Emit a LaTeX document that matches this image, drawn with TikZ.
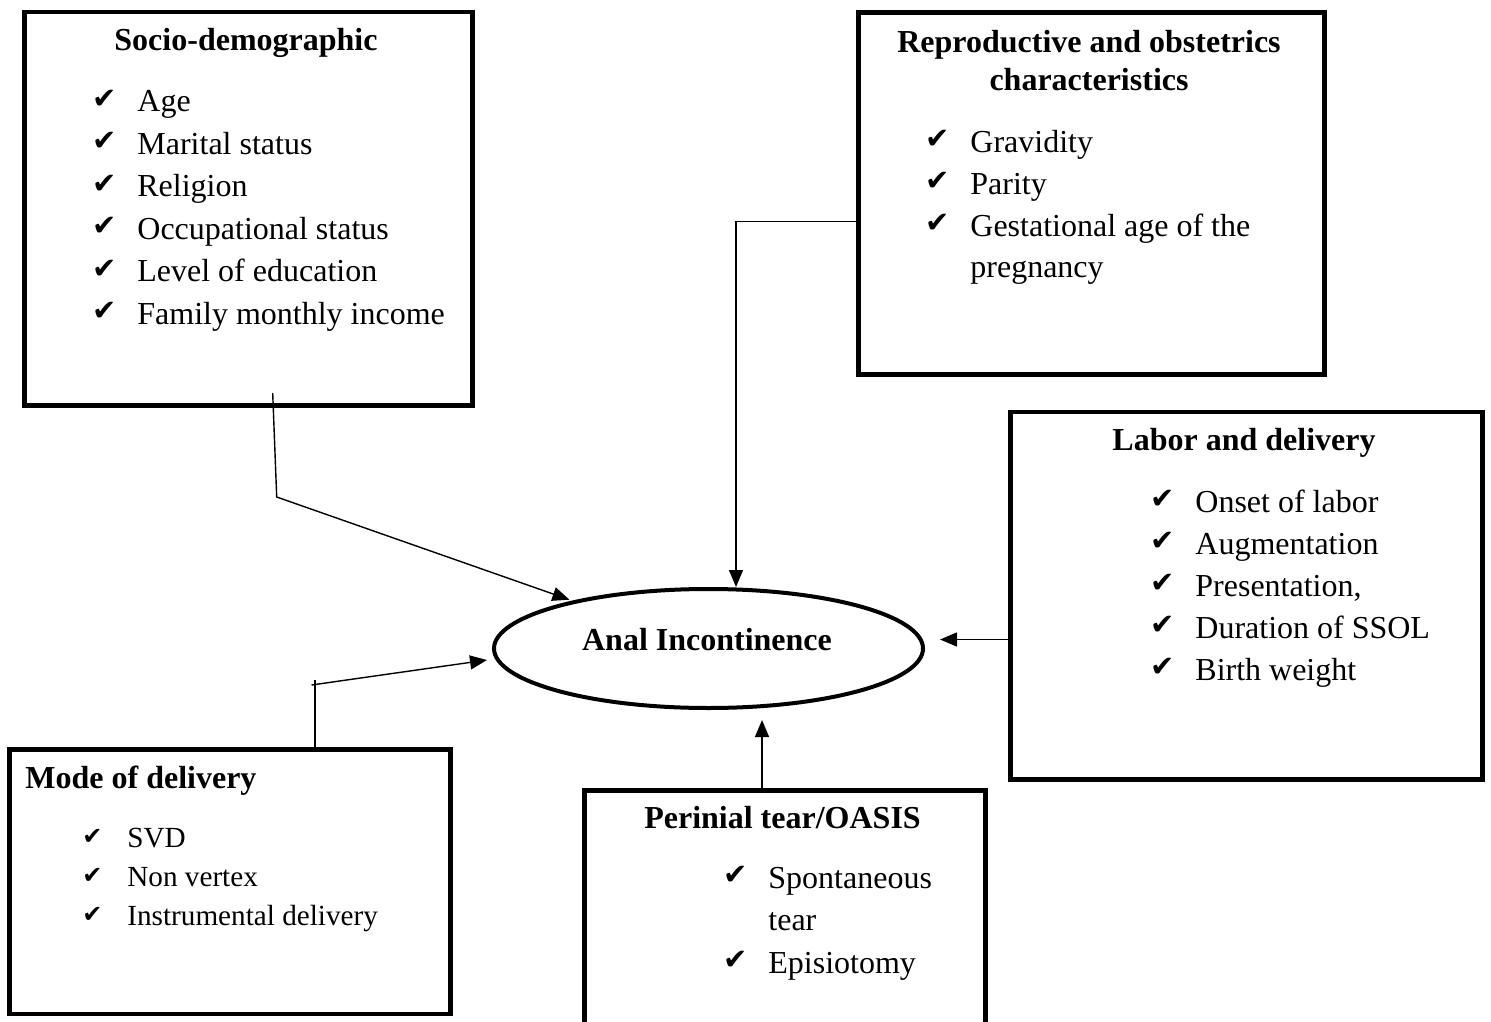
\documentclass[tikz,border=0pt]{standalone}
\usepackage{fontspec}
\setmainfont{Liberation Serif}
\newfontfamily\symfont{DejaVu Sans}
\usetikzlibrary{arrows.meta,shapes,calc}
\newcommand{\chkm}{\makebox[22.5pt][l]{\raisebox{1.8pt}{\fontsize{14.5}{12}\symfont ✔}}}
\newcommand{\chks}{\makebox[22.5pt][l]{\raisebox{1.5pt}{\fontsize{12}{10}\symfont ✔}}}

\begin{document}
\begin{tikzpicture}[x=0.5pt,y=-0.5pt]
		\tikzstyle{every node}=[font=\fontsize{16}{21}\selectfont, inner sep=0pt]
		\tikzstyle{box}=[draw, rectangle, line width=2.4pt]
		\tikzstyle{head}=[anchor=base, font=\fontsize{16}{21}\selectfont\bfseries]
		\tikzstyle{item}=[anchor=base west]
		\tikzstyle{small}=[anchor=base west, font=\fontsize{14.6}{17}\selectfont]
		\tikzstyle{link}=[line width=0.7pt, ->, >={Triangle[length=8.5pt,width=7pt]}]
		\useasboundingbox (0,0) rectangle (1491,1021);
		% boxes
		\node [box, minimum width=224pt, minimum height=196.75pt] (socio) at (248.5,208.75) {};
		\node [box, minimum width=233pt, minimum height=181pt] (repro) at (1091.5,193.5) {};
		\node [box, minimum width=236pt, minimum height=183.75pt] (labor) at (1246.5,595.75) {};
		\node [box, minimum width=220.5pt, minimum height=132.25pt] (mode) at (230,881.75) {};
		\node [box, minimum width=200.5pt, minimum height=124.75pt] (peri) at (785,915.25) {};
		\node [draw, ellipse, line width=2pt, minimum width=214.5pt, minimum height=59.5pt] (ai) at (708.5,648.5) {};
		\node [head] (aiT) at (707,650) {Anal Incontinence};
		% socio-demographic
		\node [head] (socioT) at (246,51) {Socio-demographic};
		\node [item] (age) at (92,112) {\chkm Age};
		\node [item] (marital) at (92,154.4) {\chkm Marital status};
		\node [item] (religion) at (92,196.8) {\chkm Religion};
		\node [item] (occup) at (92,239.2) {\chkm Occupational status};
		\node [item] (educ) at (92,281.6) {\chkm Level of education};
		\node [item] (income) at (92,324) {\chkm Family monthly income};
		% reproductive
		\node [head] (reproT) at (1089,52.5) {Reproductive and obstetrics};
		\node [head] (reproT2) at (1089,91) {characteristics};
		\node [item] (gravid) at (925,152.5) {\chkm Gravidity};
		\node [item] (parity) at (925,194.5) {\chkm Parity};
		\node [item] (gest) at (925,236.5) {\chkm Gestational age of the};
		\node [item] (gest2) at (970,277.5) {pregnancy};
		% labor and delivery
		\node [head] (laborT) at (1244,450.5) {Labor and delivery};
		\node [item] (onset) at (1150,512) {\chkm Onset of labor};
		\node [item] (augm) at (1150,554) {\chkm Augmentation};
		\node [item] (present) at (1150,596) {\chkm Presentation,};
		\node [item] (ssol) at (1150,638) {\chkm Duration of SSOL};
		\node [item] (weight) at (1150,680) {\chkm Birth weight};
		% mode of delivery
		\node [anchor=base west, font=\fontsize{16}{21}\selectfont\bfseries] (modeT) at (25,788.5) {Mode of delivery};
		\node [small] (svd) at (82,847) {\chks SVD};
		\node [small] (nonvx) at (82,886.5) {\chks Non vertex};
		\node [small] (instr) at (82,925.5) {\chks Instrumental delivery};
		% perinial tear
		\node [head] (periT) at (782.5,828.5) {Perinial tear/OASIS};
		\node [item] (spont) at (723,888.5) {\chkm Spontaneous};
		\node [item] (spont2) at (768,930.5) {tear};
		\node [item] (episio) at (723,973.5) {\chkm Episiotomy};
		% connectors
		\coordinate (sA) at (272.7,393);
		\coordinate (sB) at (276.7,497);
		\coordinate (rA) at (736,221.7);
		\coordinate (lT) at (940,639.5);
		\coordinate (pT) at (762,720);
		\coordinate (mA) at (315,680);
		\coordinate (mB) at (311.5,685);
		\coordinate (mT) at (487,660);
		\draw [link, shorten >=1.5pt] (sA) -- (sB) -- (ai);
		\draw [link] (repro.west |- rA) -- (rA) -- (rA |- ai.north);
		\draw [link] (labor.west |- lT) -- (lT);
		\draw [link] (peri.north -| pT) -- (pT);
		\draw [line width=0.7pt] (mode.north -| mA) -- (mA);
		\draw [link] (mB) -- (mT);
	\end{tikzpicture}
\end{document}
